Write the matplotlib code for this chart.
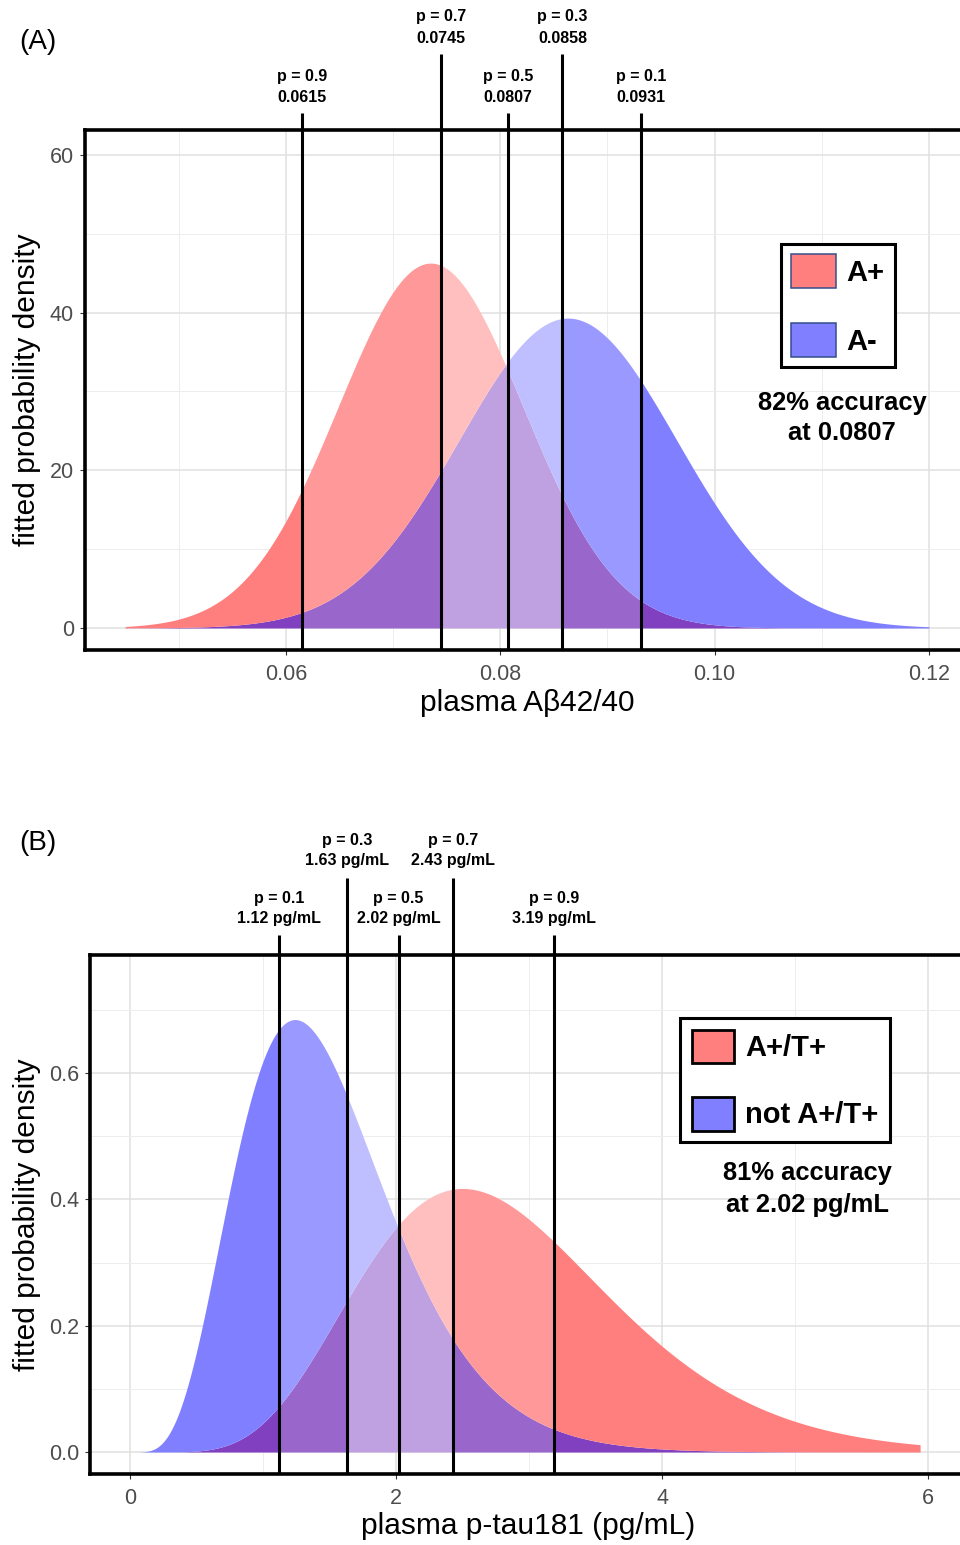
import math
import numpy as np
import matplotlib
matplotlib.use("Agg")
import matplotlib.pyplot as plt
from matplotlib.patches import Patch

plt.rcParams["font.family"] = ["Liberation Sans", "DejaVu Sans"]

# === (A) plasma Ab42/40: fitted normal densities ===
a_range = (0.045, 0.12)
a_pos_mean, a_pos_sd = 0.0735, 0.00862   # A+
a_neg_mean, a_neg_sd = 0.0863, 0.01015   # A-
a_probs = [0.9, 0.7, 0.5, 0.3, 0.1]
a_cuts = [0.0615, 0.0745, 0.0807, 0.0858, 0.0931]
a_accuracy = 82
a_xticks = [0.06, 0.08, 0.10, 0.12]
a_yticks = [0, 20, 40, 60]

# === (B) plasma p-tau181: fitted gamma densities ===
b_range = (0.0, 5.94)
b_pos_shape, b_pos_scale = 8.0, 0.357    # A+/T+
b_neg_shape, b_neg_scale = 5.7, 0.264    # not A+/T+
b_probs = [0.1, 0.3, 0.5, 0.7, 0.9]
b_cuts = [1.12, 1.63, 2.02, 2.43, 3.19]
b_accuracy = 81
b_xticks = [0, 2, 4, 6]
b_yticks = [0.0, 0.2, 0.4, 0.6]

# cores por faixa: (vermelho, azul, sobreposicao)
tier_colors = {
    "outer": ("#FF7F7F", "#7F7FFF", "#8040C0"),
    "mid": ("#FF9999", "#9999FF", "#9966CC"),
    "inner": ("#FFBFBF", "#BFBFFF", "#BFA0E0"),
}
tier_order = ["outer", "mid", "inner", "mid", "outer"]


def norm_pdf(x, mu, sd):
    return np.exp(-0.5 * ((x - mu) / sd) ** 2) / (sd * math.sqrt(2 * math.pi))


def gamma_pdf(x, k, theta):
    out = np.zeros_like(x)
    pos = x > 0
    out[pos] = np.exp((k - 1) * np.log(x[pos]) - x[pos] / theta
                      - math.lgamma(k) - k * math.log(theta))
    return out


def shade(ax, lo, hi, cuts, pos_pdf, neg_pdf):
    edges = [lo, cuts[0], cuts[1], cuts[3], cuts[4], hi]
    for i, tier in enumerate(tier_order):
        x = np.linspace(edges[i], edges[i + 1], 400)
        r = pos_pdf(x)
        b = neg_pdf(x)
        m = np.minimum(r, b)
        red, blue, purple = tier_colors[tier]
        ax.fill_between(x, 0, m, color=purple, lw=0, zorder=2)
        ax.fill_between(x, m, r, color=red, lw=0, zorder=2)
        ax.fill_between(x, m, b, color=blue, lw=0, zorder=2)


def cut_lines(ax, cuts, labels, tall_top, short_top, base_tall, base_short):
    trans = ax.get_xaxis_transform()
    for i, (c, (l1, l2)) in enumerate(zip(cuts, labels)):
        tall = i in (1, 3)
        top = tall_top if tall else short_top
        ys = base_tall if tall else base_short
        ax.plot([c, c], [0, top], color="black", lw=2.2, transform=trans,
                clip_on=False, zorder=5, solid_capstyle="butt")
        ax.text(c, ys[0], l1, transform=trans, ha="center", va="baseline",
                fontsize=11.5, fontweight="bold")
        ax.text(c, ys[1], l2, transform=trans, ha="center", va="baseline",
                fontsize=11.5, fontweight="bold")


def style_axes(ax):
    ax.set_axisbelow(True)
    ax.grid(which="major", color="#E0E0E0", lw=1.1, zorder=0)
    ax.grid(which="minor", color="#EDEDED", lw=0.7, zorder=0)
    for s in ax.spines.values():
        s.set_linewidth(2.6)
        s.set_color("black")
    ax.tick_params(which="major", length=3.6, width=0.8, color="#333333",
                   labelsize=15.5, labelcolor="#4D4D4D")
    ax.tick_params(axis="x", which="major", pad=6.5)
    ax.tick_params(axis="y", which="major", pad=4.3)
    ax.tick_params(which="minor", length=0)


W, H = 960, 1545
fig = plt.figure(figsize=(W / 100, H / 100), dpi=100)


def px_axes(left, top, right, bottom):
    return fig.add_axes([left / W, 1 - bottom / H, (right - left) / W, (bottom - top) / H])


# === Painel A ===
ax1 = px_axes(85, 130, 962, 650)
shade(ax1, a_range[0], a_range[1], a_cuts,
      lambda x: norm_pdf(x, a_pos_mean, a_pos_sd),
      lambda x: norm_pdf(x, a_neg_mean, a_neg_sd))
ax1.set_xlim(0.04125, 0.12308)
ax1.set_ylim(-2.79, 63.16)
ax1.set_xticks(a_xticks)
ax1.set_xticklabels([f"{t:.2f}" for t in a_xticks])
ax1.set_yticks(a_yticks)
ax1.set_xticks([0.05, 0.07, 0.09, 0.11], minor=True)
ax1.set_yticks([10, 30, 50], minor=True)
style_axes(ax1)
ax1.set_xlabel("plasma Aβ42/40", fontsize=21.5, va="center")
ax1.set_ylabel("fitted probability density", fontsize=21.5, va="center")
ax1.xaxis.set_label_coords(0.504, -0.102)
ax1.yaxis.set_label_coords(-0.066, 0.5)

a_labels = [(f"p = {p}", f"{c:.4f}") for p, c in zip(a_probs, a_cuts)]
cut_lines(ax1, a_cuts, a_labels, 1.146, 1.033, (1.209, 1.168), (1.094, 1.054))

leg1 = ax1.legend(
    handles=[Patch(facecolor="#FF7F7F", edgecolor="#34508C", lw=1.1, label="A+"),
             Patch(facecolor="#7F7FFF", edgecolor="#34508C", lw=1.1, label="A-")],
    loc="upper left", bbox_to_anchor=(0.7936, 0.7808), borderaxespad=0,
    prop={"size": 21, "weight": "bold"}, handlelength=1.51, handleheight=1.4,
    labelspacing=1.2, borderpad=0.36, handletextpad=0.36, fancybox=False,
    framealpha=1)
leg1.get_frame().set_edgecolor("black")
leg1.get_frame().set_linewidth(2.2)

ax1.text(0.863, 0.475, f"{a_accuracy}% accuracy", transform=ax1.transAxes,
         ha="center", va="center", fontsize=18.4, fontweight="bold")
ax1.text(0.863, 0.417, f"at {a_cuts[2]:.4f}", transform=ax1.transAxes,
         ha="center", va="center", fontsize=18.4, fontweight="bold")
fig.text(38 / W, 1 - 42 / H, "(A)", ha="center", va="center", fontsize=20)

# === Painel B ===
ax2 = px_axes(90, 955, 962, 1474)
shade(ax2, b_range[0], b_range[1], b_cuts,
      lambda x: gamma_pdf(x, b_pos_shape, b_pos_scale),
      lambda x: gamma_pdf(x, b_neg_shape, b_neg_scale))
ax2.set_xlim(-0.30, 6.255)
ax2.set_ylim(-0.0348, 0.787)
ax2.set_xticks(b_xticks)
ax2.set_yticks(b_yticks)
ax2.set_yticklabels([f"{t:.1f}" for t in b_yticks])
ax2.set_xticks([1, 3, 5], minor=True)
ax2.set_yticks([0.1, 0.3, 0.5, 0.7], minor=True)
style_axes(ax2)
ax2.set_xlabel("plasma p-tau181 (pg/mL)", fontsize=21.5, va="center")
ax2.set_ylabel("fitted probability density", fontsize=21.5, va="center")
ax2.xaxis.set_label_coords(0.502, -0.100)
ax2.yaxis.set_label_coords(-0.0722, 0.499)

b_labels = [(f"p = {p}", f"{c:.2f} pg/mL") for p, c in zip(b_probs, b_cuts)]
cut_lines(ax2, b_cuts, b_labels, 1.149, 1.0385, (1.212, 1.173), (1.101, 1.061))

leg2 = ax2.legend(
    handles=[Patch(facecolor="#FF7F7F", edgecolor="black", lw=2.0, label="A+/T+"),
             Patch(facecolor="#7F7FFF", edgecolor="black", lw=2.0, label="not A+/T+")],
    loc="upper left", bbox_to_anchor=(0.6766, 0.8786), borderaxespad=0,
    prop={"size": 21, "weight": "bold"}, handlelength=1.44, handleheight=1.4,
    labelspacing=1.15, borderpad=0.4, handletextpad=0.4, fancybox=False,
    framealpha=1)
leg2.get_frame().set_edgecolor("black")
leg2.get_frame().set_linewidth(2.2)

ax2.text(0.823, 0.580, f"{b_accuracy}% accuracy", transform=ax2.transAxes,
         ha="center", va="center", fontsize=18.4, fontweight="bold")
ax2.text(0.823, 0.518, f"at {b_cuts[2]:.2f} pg/mL", transform=ax2.transAxes,
         ha="center", va="center", fontsize=18.4, fontweight="bold")
fig.text(38 / W, 1 - 843 / H, "(B)", ha="center", va="center", fontsize=20)

fig.savefig("out.png", dpi=100)
